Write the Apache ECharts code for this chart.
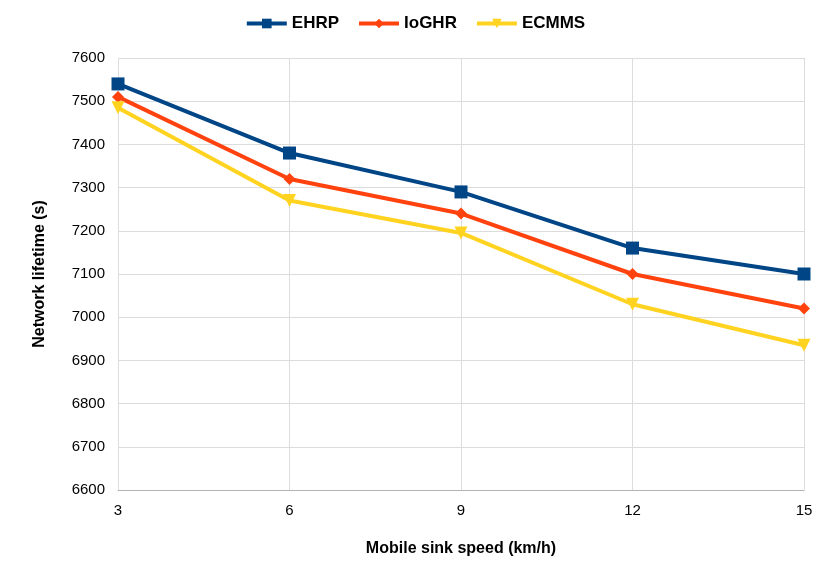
<!DOCTYPE html>
<html>
<head>
<meta charset="utf-8">
<script src="https://cdn.jsdelivr.net/npm/echarts@6/dist/echarts.min.js"></script>
<style>
  html, body { margin: 0; padding: 0; background: #fff; }
  #main { width: 830px; height: 581px; }
</style>
</head>
<body>
<div id="main"></div>
<script>
var speeds = ['3', '6', '9', '12', '15'];
var ehrp = [7540, 7380, 7290, 7160, 7100];
var ioghr = [7510, 7320, 7240, 7100, 7020];
var ecmms = [7485, 7270, 7195, 7030, 6935];

var myChart = echarts.init(document.getElementById('main'));
var font = 'Liberation Sans, Arial, sans-serif';

var option = {
    backgroundColor: '#ffffff',
    animation: false,
    textStyle: { fontFamily: font },
    legend: {
        top: 10,
        left: 'center',
        itemWidth: 40,
        itemHeight: 12,
        itemGap: 18,
        lineStyle: { width: 4 },
        textStyle: { fontFamily: font, fontSize: 17, fontWeight: 'bold', color: '#000' },
        data: ['EHRP', 'IoGHR', 'ECMMS']
    },
    grid: { left: 118, right: 26, top: 58, bottom: 91 },
    xAxis: {
        type: 'category',
        data: speeds,
        boundaryGap: false,
        name: 'Mobile sink speed (km/h)',
        nameLocation: 'middle',
        nameGap: 51,
        nameTextStyle: { fontFamily: font, fontSize: 16, fontWeight: 'bold', color: '#000' },
        axisLine: { lineStyle: { color: '#b3b3b3' } },
        axisTick: { show: false },
        axisLabel: { fontFamily: font, fontSize: 15, color: '#000', margin: 13 },
        splitLine: { show: true, lineStyle: { color: '#dcdcdc' } }
    },
    yAxis: {
        type: 'value',
        min: 6600,
        max: 7600,
        interval: 100,
        name: 'Network lifetime (s)',
        nameLocation: 'middle',
        nameGap: 70,
        nameTextStyle: { fontFamily: font, fontSize: 16, fontWeight: 'bold', color: '#000' },
        axisLine: { show: false },
        axisTick: { show: false },
        axisLabel: {
            fontFamily: font, fontSize: 15, color: '#000', margin: 13,
            formatter: function (v) { return String(v); }
        },
        splitLine: { show: true, lineStyle: { color: '#dcdcdc' } }
    },
    series: [
        {
            name: 'EHRP',
            type: 'line',
            data: ehrp,
            symbol: 'rect',
            symbolSize: 13,
            lineStyle: { width: 4, color: '#004586' },
            itemStyle: { color: '#004586' }
        },
        {
            name: 'IoGHR',
            type: 'line',
            data: ioghr,
            symbol: 'diamond',
            symbolSize: 12,
            lineStyle: { width: 4, color: '#ff420e' },
            itemStyle: { color: '#ff420e' }
        },
        {
            name: 'ECMMS',
            type: 'line',
            data: ecmms,
            symbol: 'triangle',
            symbolRotate: 180,
            symbolSize: 13,
            lineStyle: { width: 4, color: '#ffd320' },
            itemStyle: { color: '#ffd320' }
        }
    ]
};
myChart.setOption(option);
window.addEventListener('resize', function () {
    myChart.resize();
});
</script>
</body>
</html>
